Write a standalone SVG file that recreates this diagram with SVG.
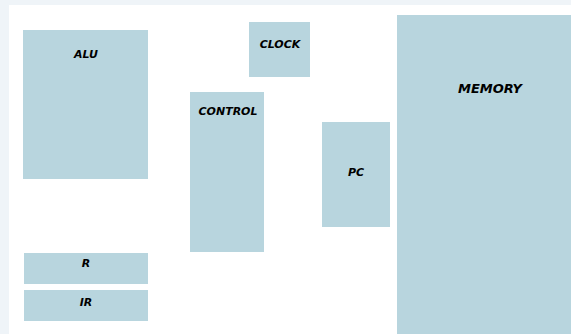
<svg xmlns="http://www.w3.org/2000/svg" width="571" height="334" viewBox="0 0 571 334">
<style>
.box{fill:#b8d5de}
.lbl{font-family:"DejaVu Sans",sans-serif;font-weight:bold;font-style:italic;font-size:11px;fill:#000;text-anchor:middle}
</style>
<rect x="0" y="0" width="571" height="334" fill="#eff4f8"/>
<rect x="9" y="5" width="562" height="329" fill="#ffffff"/>
<g id="connectors"></g>
<g id="alu"><rect class="box" x="23" y="30" width="125" height="149"/><text class="lbl" x="86" y="58">ALU</text></g>
<g id="clock"><rect class="box" x="249" y="22" width="61" height="55"/><text class="lbl" x="280" y="48">CLOCK</text></g>
<g id="control"><rect class="box" x="190" y="92" width="74" height="160"/><text class="lbl" x="228" y="115">CONTROL</text></g>
<g id="pc"><rect class="box" x="322" y="122" width="68" height="105"/><text class="lbl" x="356" y="176">PC</text></g>
<g id="memory"><rect class="box" x="397" y="15" width="174" height="319"/><text class="lbl" x="490" y="93" style="font-size:13px">MEMORY</text></g>
<g id="r"><rect class="box" x="24" y="253" width="124" height="31"/><text class="lbl" x="86" y="267">R</text></g>
<g id="ir"><rect class="box" x="24" y="290" width="124" height="31"/><text class="lbl" x="86" y="306">IR</text></g>
</svg>
